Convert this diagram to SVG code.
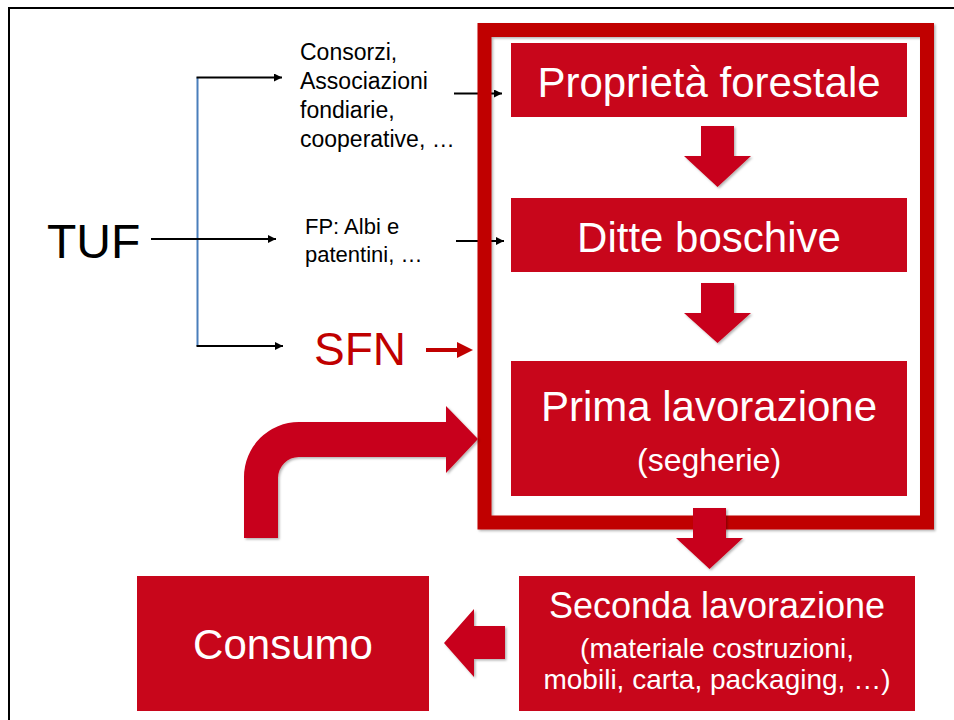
<svg xmlns="http://www.w3.org/2000/svg" width="954" height="720" viewBox="0 0 954 720">
<defs>
<style>
.box{fill:#C8061B}
.wt{fill:#fff;font-family:"Liberation Sans",Arial,sans-serif;text-anchor:middle}
.bt{fill:#000;font-family:"Liberation Sans",Arial,sans-serif}
.ln{stroke:#000;stroke-width:2;fill:none}
.big{fill:#C8061B;filter:url(#sh)}
</style>
<filter id="sh" x="-10%" y="-10%" width="130%" height="130%">
<feDropShadow dx="1.5" dy="1.5" stdDeviation="1.2" flood-color="#000" flood-opacity="0.3"/>
</filter>
<marker id="ah" viewBox="0 0 8 8" refX="8" refY="4" markerWidth="8" markerHeight="8" markerUnits="userSpaceOnUse" orient="auto">
<path d="M0,0 L8,4 L0,8 Z" fill="#000"/>
</marker>
</defs>
<rect x="0" y="0" width="954" height="720" fill="#fff"/>
<rect x="9" y="8" width="980" height="760" fill="none" stroke="#000" stroke-width="2"/>

<g id="connectors">
<line x1="197.5" y1="77.5" x2="197.5" y2="346" stroke="#4A7EBB" stroke-width="2"/>
<line class="ln" x1="151" y1="239" x2="276" y2="239" marker-end="url(#ah)"/>
<line class="ln" x1="196.5" y1="77.5" x2="282" y2="77.5" marker-end="url(#ah)"/>
<line class="ln" x1="196.5" y1="346" x2="283" y2="346" marker-end="url(#ah)"/>
<line class="ln" x1="454" y1="93.5" x2="502" y2="93.5" marker-end="url(#ah)"/>
<line class="ln" x1="456" y1="241" x2="504" y2="241" marker-end="url(#ah)"/>
</g>

<g id="frame">
<rect x="484.5" y="30" width="442.5" height="492.5" fill="none" stroke="#C00000" stroke-width="14" filter="url(#sh)"/>
</g>

<g id="sfn-arrow">
<line x1="426" y1="350" x2="459" y2="350" stroke="#C00000" stroke-width="4"/>
<path d="M457,342 L473,350 L457,358 Z" fill="#C00000"/>
</g>

<g id="tuf"><text class="bt" x="47" y="258" font-size="48">TUF</text></g>
<g id="consorzi">
<text class="bt" font-size="23"><tspan x="300" y="60">Consorzi,</tspan><tspan x="300" y="89">Associazioni</tspan><tspan x="300" y="118">fondiarie,</tspan><tspan x="300" y="147">cooperative, …</tspan></text>
</g>
<g id="fp">
<text class="bt" font-size="22"><tspan x="305" y="234">FP: Albi e</tspan><tspan x="305" y="262">patentini, …</tspan></text>
</g>
<g id="sfn"><text x="314" y="365" font-size="46" fill="#C00000" font-family="Liberation Sans,Arial,sans-serif">SFN</text></g>

<g id="proprieta">
<rect class="box" x="511" y="43" width="396" height="74"/>
<text class="wt" x="709" y="97" font-size="42">Proprietà forestale</text>
</g>
<g id="arrow1"><path class="big" d="M701,126 L734,126 L734,156 L751,156 L717.5,187 L684,156 L701,156 Z"/></g>
<g id="ditte">
<rect class="box" x="511" y="198" width="396" height="74"/>
<text class="wt" x="709" y="252" font-size="42">Ditte boschive</text>
</g>
<g id="arrow2"><path class="big" d="M701,283 L734,283 L734,313 L751,313 L717.5,343 L684,313 L701,313 Z"/></g>
<g id="prima">
<rect class="box" x="511" y="361" width="396" height="135"/>
<text class="wt" x="709" y="421" font-size="42">Prima lavorazione</text>
<text class="wt" x="709" y="471" font-size="32">(segherie)</text>
</g>
<g id="arrow3"><path class="big" d="M693,508 L726,508 L726,538 L743,538 L709.5,569 L676,538 L693,538 Z"/></g>
<g id="seconda">
<rect class="box" x="519" y="576" width="396" height="135"/>
<text class="wt" x="717" y="618" font-size="36">Seconda lavorazione</text>
<text class="wt" x="717" y="658" font-size="28">(materiale costruzioni,</text>
<text class="wt" x="717" y="689" font-size="28">mobili, carta, packaging, …)</text>
</g>
<g id="arrow4"><path class="big" d="M505,626 L474,626 L474,609 L444,643 L474,677 L474,659 L505,659 Z"/></g>
<g id="consumo">
<rect class="box" x="137" y="576" width="292" height="135"/>
<text class="wt" x="283" y="659" font-size="42">Consumo</text>
</g>
<g id="bent-arrow"><path class="big" d="M244,538 L244,477 A55,55 0 0 1 299,422 L446,422 L446,406 L478,439 L446,473 L446,457 L299,457 A21,21 0 0 0 278,478 L278,538 Z"/></g>
</svg>
